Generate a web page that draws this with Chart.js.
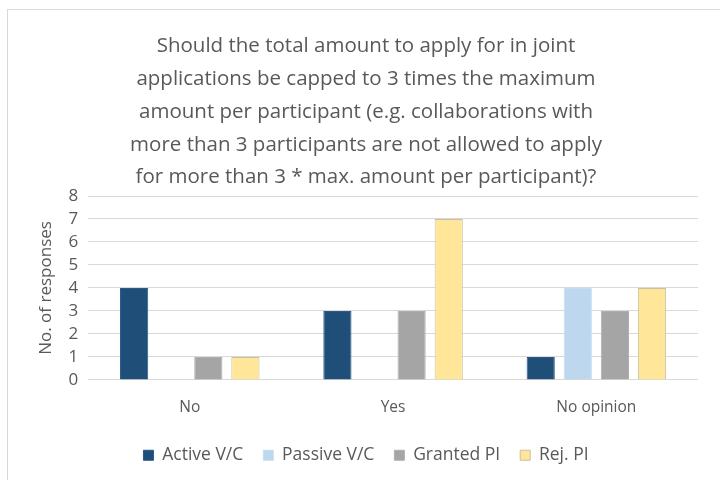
<!DOCTYPE html>
<html>
<head>
<meta charset="utf-8">
<script src="https://cdn.jsdelivr.net/npm/chart.js@4"></script>
<style>
  html, body { margin: 0; padding: 0; background: #fff; }
  #wrap { position: absolute; left: 0; top: 0; width: 720px; height: 480px; }
  #frame { position: absolute; left: 7px; top: 9px; width: 740px; height: 480px; border: 1px solid #d9d9d9; box-sizing: border-box; }
  canvas { position: absolute; left: 0; top: 0; }
</style>
</head>
<body>
<div id="wrap">
  <div id="frame"></div>
  <canvas id="chart" width="720" height="480"></canvas>
</div>
<script>
// --- Data ---
const categories = ['No', 'Yes', 'No opinion'];
const activeVC = [4, 3, 1];
const passiveVC = [0, 0, 4];
const grantedPI = [1, 3, 3];
const rejPI = [1, 7, 4];
const titleLines = [
  'Should the total amount to apply for in joint',
  'applications be capped to 3 times the maximum',
  'amount per participant (e.g. collaborations with',
  'more than 3 participants are not allowed to apply',
  'for more than 3 * max. amount per participant)?'
];

const textColor = '#595959';
const font = "'Open Sans', 'Noto Sans', sans-serif";

function series(label, data, fill, border) {
  return {
    label, data,
    backgroundColor: fill,
    borderColor: border,
    borderWidth: 1,
    categoryPercentage: 0.73,
    barPercentage: 0.76
  };
}

const ctx = document.getElementById('chart').getContext('2d');
new Chart(ctx, {
  type: 'bar',
  data: {
    labels: categories,
    datasets: [
      series('Active V/C', activeVC, '#1f4e79', '#2a5a85'),
      series('Passive V/C', passiveVC, '#bdd7ee', '#c6dcf0'),
      series('Granted PI', grantedPI, '#a5a5a5', '#b0b0b0'),
      series('Rej. PI', rejPI, '#ffe699', '#c8c0a0')
    ]
  },
  options: {
    responsive: false,
    animation: false,
    layout: { padding: { left: 34, right: 22, top: 30, bottom: 6 } },
    plugins: {
      title: {
        display: true,
        text: titleLines,
        color: textColor,
        font: { family: font, size: 20.5, weight: 'normal', lineHeight: 1.6 },
        padding: { top: 0, bottom: 2 }
      },
      legend: {
        position: 'bottom',
        labels: {
          color: textColor,
          font: { family: font, size: 17.5 },
          boxWidth: 10,
          boxHeight: 10,
          padding: 20
        }
      },
      tooltip: { enabled: false }
    },
    scales: {
      x: {
        grid: { display: false },
        border: { display: false },
        ticks: { color: textColor, font: { family: font, size: 15.5 }, padding: 10 }
      },
      y: {
        min: 0, max: 8,
        ticks: { stepSize: 1, autoSkip: false, color: textColor, font: { family: font, size: 17 }, padding: 10 },
        grid: { color: '#d9d9d9', drawTicks: false },
        border: { display: false },
        title: {
          display: true,
          text: 'No. of responses',
          color: textColor,
          font: { family: font, size: 17 },
          padding: 2
        }
      }
    }
  }
});
</script>
</body>
</html>
